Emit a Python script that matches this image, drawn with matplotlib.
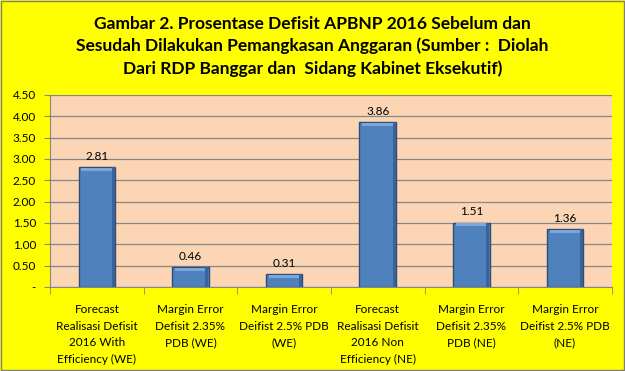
import matplotlib
matplotlib.use("Agg")
import matplotlib.pyplot as plt
from matplotlib.patches import Rectangle
import numpy as np

categories = [
    "Forecast\nRealisasi Defisit\n2016 With\nEfficiency (WE)",
    "Margin Error\nDefisit 2.35%\nPDB (WE)",
    "Margin Error\nDeifist 2.5% PDB\n(WE)",
    "Forecast\nRealisasi Defisit\n2016 Non\nEfficiency (NE)",
    "Margin Error\nDefisit 2.35%\nPDB (NE)",
    "Margin Error\nDeifist 2.5% PDB\n(NE)",
]
values = [2.81, 0.46, 0.31, 3.86, 1.51, 1.36]
yticks = [0, 0.5, 1.0, 1.5, 2.0, 2.5, 3.0, 3.5, 4.0, 4.5]
title = ("Gambar 2. Prosentase Defisit APBNP 2016 Sebelum dan\n"
         "Sesudah Dilakukan Pemangkasan Anggaran (Sumber :  Diolah\n"
         "Dari RDP Banggar dan  Sidang Kabinet Eksekutif)")

plt.rcParams['font.family'] = ['Lato', 'DejaVu Sans']

fig = plt.figure(figsize=(6.25, 3.71), dpi=100, facecolor="#FFFF00")
fig.patches.append(Rectangle((0.001, 0.002), 0.997, 0.995, transform=fig.transFigure,
                             fill=False, edgecolor="#7F7F7F", linewidth=1.0))

ax = fig.add_axes([0.08, 0.2264, 0.899, 0.5176])
ax.set_facecolor("#FCD5B5")

x = np.arange(len(values))
w = 0.39
bars = ax.bar(x, values, width=w, color="#4F81BD", edgecolor="#2C4D75", linewidth=1.0, zorder=3)
# bevel highlight at top
for xi, v in zip(x, values):
    ax.add_patch(Rectangle((xi - w / 2 + 0.03, v - 0.09), w - 0.06, 0.07,
                           facecolor="#7EA6D8", edgecolor="none", zorder=4))
    ax.add_patch(Rectangle((xi + w / 2 - 0.035, 0), 0.03, v,
                           facecolor="#3A6499", edgecolor="none", zorder=4))
    ax.text(xi, v + 0.12, f"{v:.2f}", ha="center", va="bottom", fontsize=8.5,
            color="#000000", zorder=5)

ax.set_xlim(-0.5, len(values) - 0.5)
ax.set_ylim(0, 4.5)
ax.set_yticks(yticks)
ax.set_yticklabels(["-" if t == 0 else f"{t:.2f}" for t in yticks], fontsize=8.5)
ax.yaxis.grid(True, color="#868686", linewidth=0.9, zorder=0)
ax.set_axisbelow(True)

ax.set_xticks(x)
ax.set_xticklabels(categories, fontsize=8.5, linespacing=1.65)
ax.tick_params(axis="x", length=0, pad=12)
ax.set_xticks(np.arange(-0.5, len(values)), minor=True)
ax.tick_params(axis="x", which="minor", length=5, color="#868686")
ax.tick_params(axis="y", length=4, color="#868686", pad=6)

for s in ["top", "right"]:
    ax.spines[s].set_visible(False)
ax.spines["left"].set_color("#868686")
ax.spines["bottom"].set_color("#868686")

fig.text(0.5, 0.875, title, ha="center", va="center", fontsize=12.5,
         fontweight="bold", linespacing=1.45)

fig.savefig("out.png", dpi=100, facecolor=fig.get_facecolor())
